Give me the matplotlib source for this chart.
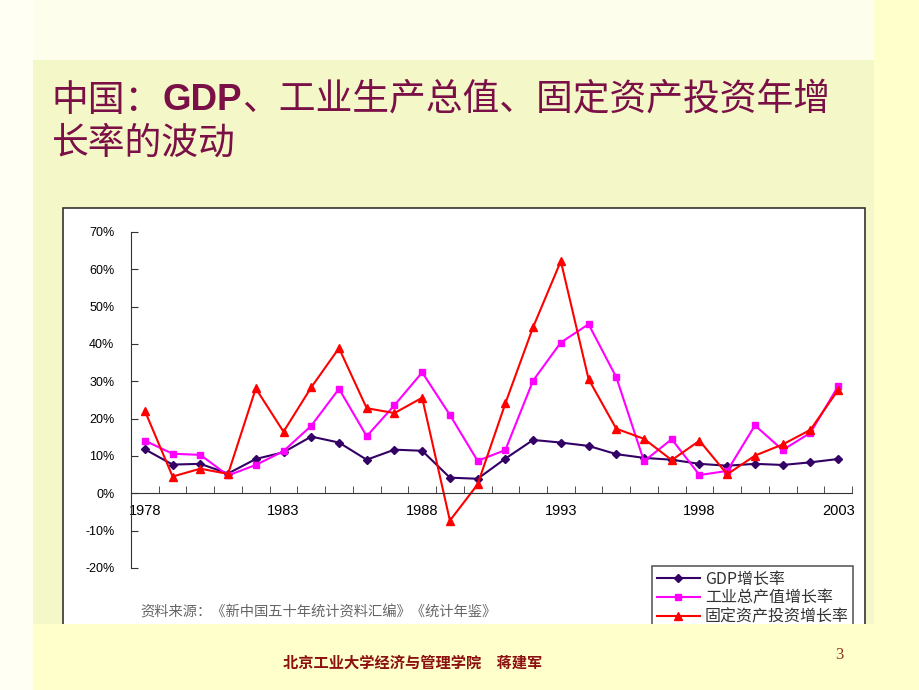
import matplotlib
matplotlib.use('Agg')
import matplotlib.pyplot as plt
from matplotlib.patches import Rectangle
from matplotlib.ticker import FixedLocator, FuncFormatter

years = list(range(1978, 2004))
gdp = [11.8, 7.7, 7.9, 5.3, 9.2, 11.0, 15.2, 13.6, 9.0, 11.7, 11.4, 4.2, 3.9,
       9.3, 14.3, 13.6, 12.7, 10.5, 9.5, 9.0, 7.9, 7.4, 7.9, 7.6, 8.3, 9.2]
industry = [14.1, 10.6, 10.3, 4.8, 7.6, 11.3, 18.1, 28.0, 15.3, 23.6, 32.4, 21.0, 8.7,
            11.6, 30.2, 40.4, 45.3, 31.1, 8.6, 14.5, 4.9, 6.0, 18.2, 11.6, 16.2, 28.7]
investment = [22.1, 4.5, 6.6, 5.2, 28.1, 16.5, 28.4, 38.9, 22.8, 21.5, 25.6, -7.3, 2.4,
              24.1, 44.5, 62.2, 30.6, 17.3, 14.6, 8.9, 14.1, 5.1, 10.1, 13.1, 17.0, 27.7]
series_names = ['GDP增长率', '工业总产值增长率', '固定资产投资增长率']
label_years = [1978, 1983, 1988, 1993, 1998, 2003]
y_ticks = [-20, -10, 0, 10, 20, 30, 40, 50, 60, 70]

plt.rcParams['font.family'] = ['Noto Sans CJK SC', 'DejaVu Sans']

W, H = 920, 690
fig = plt.figure(figsize=(W / 100, H / 100), dpi=100)
fig.patch.set_facecolor('#FFFFD6')


def fx(px):
    return px / W


def fy(py):
    return 1 - py / H


def rect(x0, y0, x1, y1, color, z=0, **kw):
    r = Rectangle((fx(x0), fy(y1)), fx(x1) - fx(x0), fy(y0) - fy(y1),
                  transform=fig.transFigure, facecolor=color, zorder=z, **kw)
    fig.add_artist(r)
    return r


# backgrounds
rect(0, 0, 920, 60, '#FEFEEC', z=-5, edgecolor='none')
rect(0, 0, 33, 690, '#FFFFF4', z=-5, edgecolor='none')
rect(33, 60, 874, 625, '#F4F8C8', z=-4, edgecolor='none')
rect(874, 0, 920, 690, '#FFFFCC', z=-4, edgecolor='none')
# chart frame
rect(63, 208, 865, 640, 'white', z=-3, edgecolor='#333333', linewidth=1.2)
# bottom band covering the chart bottom
rect(33, 624, 920, 690, '#FFFFCC', z=20, edgecolor='none')

# axes
ax = fig.add_axes([fx(131), fy(568), fx(852) - fx(131), fy(232) - fy(568)])
ax.set_facecolor('none')
x = list(range(len(years)))
ax.plot(x, gdp, color='#330066', marker='D', markersize=4, linewidth=1.5, label=series_names[0])
ax.plot(x, industry, color='#FF00FF', marker='s', markersize=5, linewidth=1.5, label=series_names[1])
ax.plot(x, investment, color='#FF0000', marker='^', markersize=6, linewidth=1.5, label=series_names[2])

ax.set_xlim(-0.5, len(years) - 0.5)
ax.set_ylim(-20, 70)
for s in ['top', 'right']:
    ax.spines[s].set_visible(False)
ax.spines['bottom'].set_position(('data', 0))
ax.spines['bottom'].set_color('#333333')
ax.spines['left'].set_color('#333333')

ax.xaxis.set_major_locator(FixedLocator([years.index(y) for y in label_years]))
ax.set_xticklabels([str(y) for y in label_years])
ax.xaxis.set_minor_locator(FixedLocator([i - 0.5 for i in range(len(years) + 1)]))
ax.tick_params(axis='x', which='major', length=0, pad=8, labelsize=10.5)
ax.tick_params(axis='x', which='minor', direction='in', length=5, color='#333333')
ax.set_yticks(y_ticks)
ax.yaxis.set_major_formatter(FuncFormatter(lambda v, p: f'{int(v)}%'))
ax.tick_params(axis='y', direction='in', length=5, pad=12, labelsize=9, color='#333333')
for lab in ax.get_xticklabels() + ax.get_yticklabels():
    lab.set_fontfamily('Liberation Sans')

leg = ax.legend(loc='upper left', bbox_to_anchor=(fx(652), fy(566)), bbox_transform=fig.transFigure,
                borderaxespad=0, frameon=True, fancybox=False, edgecolor='#333333',
                fontsize=11.5, handlelength=2.7, handletextpad=0.3, labelspacing=0.12,
                borderpad=0.3)
leg.get_frame().set_linewidth(1.2)
for t in leg.get_texts():
    t.set_color('#333333')

# source note
fig.text(fx(140), fy(612), '资料来源：《新中国五十年统计资料汇编》《统计年鉴》', fontsize=10.3,
         color='#666666', va='center', ha='left')

# title with bold GDP
title_color = '#7A1046'
fig.canvas.draw()
renderer = fig.canvas.get_renderer()
t1 = fig.text(fx(52), fy(100), '中国：', fontsize=26.5, color=title_color, va='center', ha='left')
bb = t1.get_window_extent(renderer)
t2 = fig.text(bb.x1 / W, fy(100), 'GDP', fontsize=26.5, color=title_color, va='center', ha='left',
              fontweight='bold', family=['Liberation Sans', 'DejaVu Sans'])
bb = t2.get_window_extent(renderer)
fig.text(bb.x1 / W, fy(100), '、工业生产总值、固定资产投资年增', fontsize=26.5, color=title_color,
         va='center', ha='left')
fig.text(fx(52), fy(143), '长率的波动', fontsize=26.5, color=title_color, va='center', ha='left')

# footer
fig.text(fx(283), fy(663), '北京工业大学经济与管理学院　蒋建军', fontsize=11, fontweight='bold',
         color='#8B1010', va='center', ha='left', zorder=25)
fig.text(fx(839), fy(655), '3', fontsize=12, color='#8B3A1A', va='center', ha='center',
         family=['Liberation Serif'], zorder=25)

fig.savefig('out.png', dpi=100, facecolor=fig.get_facecolor())
